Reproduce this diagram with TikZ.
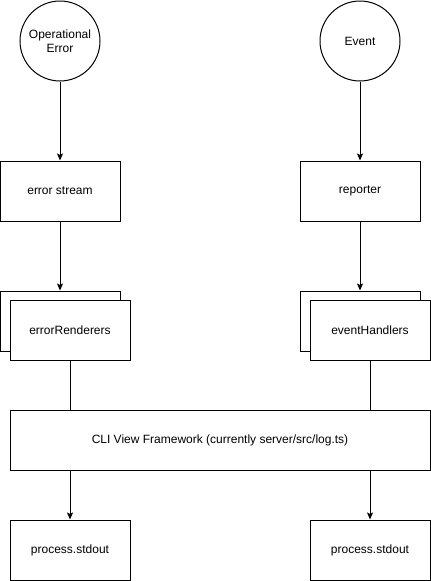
\documentclass[tikz,border=0pt]{standalone}
\usepackage{fontspec}
\setmainfont{Liberation Sans}
\usetikzlibrary{positioning,arrows.meta}

\begin{document}
\begin{tikzpicture}[
    x=1pt, y=-1pt,
    node distance=79pt,
    font=\fontsize{12}{14}\selectfont,
    source/.style={circle, draw, line width=1pt, fill=white, minimum size=80pt, inner sep=0pt, align=center},
    box/.style={rectangle, draw, line width=1pt, fill=white, minimum width=120pt, minimum height=60pt},
    arrow/.style={-{Stealth[length=7pt, width=6pt, inset=1.5pt]}, line width=1pt},
    link/.style={line width=1pt}
]
    \useasboundingbox (0,0) rectangle (431,581);

    \node[source] (opError) at (60,41) {Operational\\Error};
    \node[source] (evt) at (360,41) {Event};
    \node[box, below=of opError] (errStream) {error stream};
    \node[box, below=of evt] (reporter) {reporter};

    % stacked boxes
    \node[box] (rendBack) at (60,321) {};
    \node[box] (renderers) at (70,330) {errorRenderers};
    \node[box] (handBack) at (360,321) {};
    \node[box] (handlers) at (370,330) {eventHandlers};

    \node[box, minimum width=420pt] (cli) at (220,440) {CLI View Framework (currently server/src/log.ts)};
    \node[box] (outLeft) at (70,550) {process.stdout};
    \node[box] (outRight) at (370,550) {process.stdout};

    \draw[arrow] (opError) -- (errStream);
    \draw[arrow] (evt) -- (reporter);
    \draw[arrow] (errStream) -- (rendBack);
    \draw[arrow] (reporter) -- (handBack);
    \draw[link] (renderers) -- (renderers |- cli.north);
    \draw[link] (handlers) -- (handlers |- cli.north);
    \draw[arrow] (cli.south -| outLeft) -- (outLeft);
    \draw[arrow] (cli.south -| outRight) -- (outRight);
\end{tikzpicture}
\end{document}
